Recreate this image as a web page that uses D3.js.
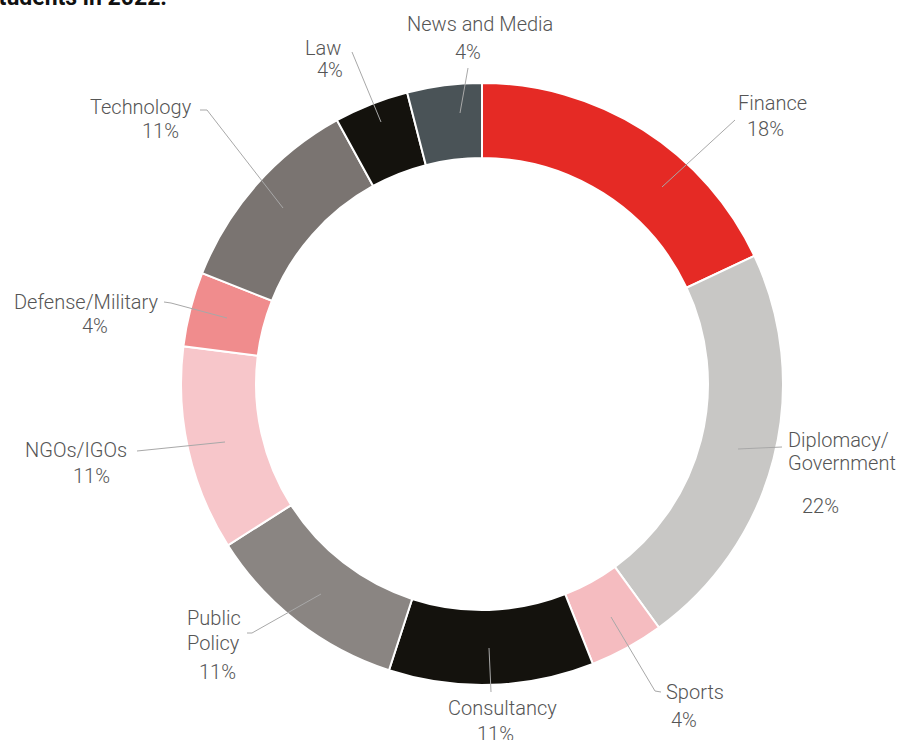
<!DOCTYPE html>
<html>
<head>
<meta charset="utf-8">
<script src="https://cdn.jsdelivr.net/npm/d3@7"></script>
<style>
  html, body { margin: 0; padding: 0; background: #fff; }
  svg { display: block; }
</style>
</head>
<body>
<div id="chart"></div>
<script>
// sectors, clockwise from 12 o'clock
const sectors = ["Finance", "Diplomacy/Government", "Sports", "Consultancy", "Public Policy",
  "NGOs/IGOs", "Defense/Military", "Technology", "Law", "News and Media"];
const shares = [18, 22, 4, 11, 11, 11, 4, 11, 4, 4];
const sectorColors = ["#e52a25", "#c8c7c5", "#f5bcc0", "#14120d", "#8a8582",
  "#f7c6ca", "#f08c8d", "#7a7471", "#14120d", "#4a5357"];

const width = 908, height = 740;
const center = { x: 482, y: 384 };
const outerR = 301, innerR = 226;

// hand placed label text (lines + left x + baseline y) and leader polylines
const labelLayout = {
  "Finance": { lines: [["Finance", 738, 110], ["18%", 747, 136]],
    leader: [[735, 120], [662, 187]] },
  "Diplomacy/Government": { lines: [["Diplomacy/", 788, 447], ["Government", 788, 470], ["22%", 802, 513]],
    leader: [[782, 447], [738, 449]] },
  "Sports": { lines: [["Sports", 666, 699], ["4%", 671, 727]],
    leader: [[661, 692], [655, 691], [611, 617]] },
  "Consultancy": { lines: [["Consultancy", 448, 715], ["11%", 477, 741]],
    leader: [[491, 692], [489, 648]] },
  "Public Policy": { lines: [["Public", 187, 625], ["Policy", 187, 650], ["11%", 199, 679]],
    leader: [[247, 633], [252, 633], [321, 594]] },
  "NGOs/IGOs": { lines: [["NGOs/IGOs", 25, 457], ["11%", 73, 483]],
    leader: [[137, 451], [225, 442]] },
  "Defense/Military": { lines: [["Defense/Military", 14, 309], ["4%", 82, 333]],
    leader: [[164, 302], [171, 303], [227, 318]] },
  "Technology": { lines: [["Technology", 90, 114], ["11%", 142, 138]],
    leader: [[200, 110], [207, 110], [283, 208]] },
  "Law": { lines: [["Law", 305, 55], ["4%", 317, 77]],
    leader: [[352, 52], [381, 122]] },
  "News and Media": { lines: [["News and Media", 407, 31], ["4%", 455, 59]],
    leader: [[468, 68], [460, 113]] }
};

const rows = sectors.map((name, i) => ({ name, value: shares[i], color: sectorColors[i] }));

const svg = d3.select("#chart").append("svg")
  .attr("width", width)
  .attr("height", height);

// cut-off title at the top
svg.append("text")
  .attr("x", 167)
  .attr("y", 5)
  .attr("text-anchor", "end")
  .attr("font-family", "Roboto, sans-serif")
  .attr("font-weight", 700)
  .attr("font-size", 23)
  .attr("fill", "#111")
  .text("Employment sectors of graduating students in 2022.");

const pie = d3.pie().sort(null).value((d) => d.value);
const arc = d3.arc().innerRadius(innerR).outerRadius(outerR);

svg.append("g")
  .attr("transform", `translate(${center.x},${center.y})`)
  .selectAll("path")
  .data(pie(rows))
  .join("path")
  .attr("d", arc)
  .attr("fill", (d) => d.data.color)
  .attr("stroke", "#fff")
  .attr("stroke-width", 2);

const line = d3.line();

svg.append("g")
  .selectAll("path")
  .data(rows)
  .join("path")
  .attr("d", (d) => line(labelLayout[d.name].leader))
  .attr("fill", "none")
  .attr("stroke", "#a8a8a8")
  .attr("stroke-width", 1);

const labels = svg.append("g")
  .attr("font-family", "Roboto, sans-serif")
  .attr("font-weight", 300)
  .attr("font-size", 20)
  .attr("fill", "#555");

rows.forEach((d) => {
  labelLayout[d.name].lines.forEach(([txt, x, y]) => {
    labels.append("text").attr("x", x).attr("y", y).text(txt);
  });
});
</script>
</body>
</html>
